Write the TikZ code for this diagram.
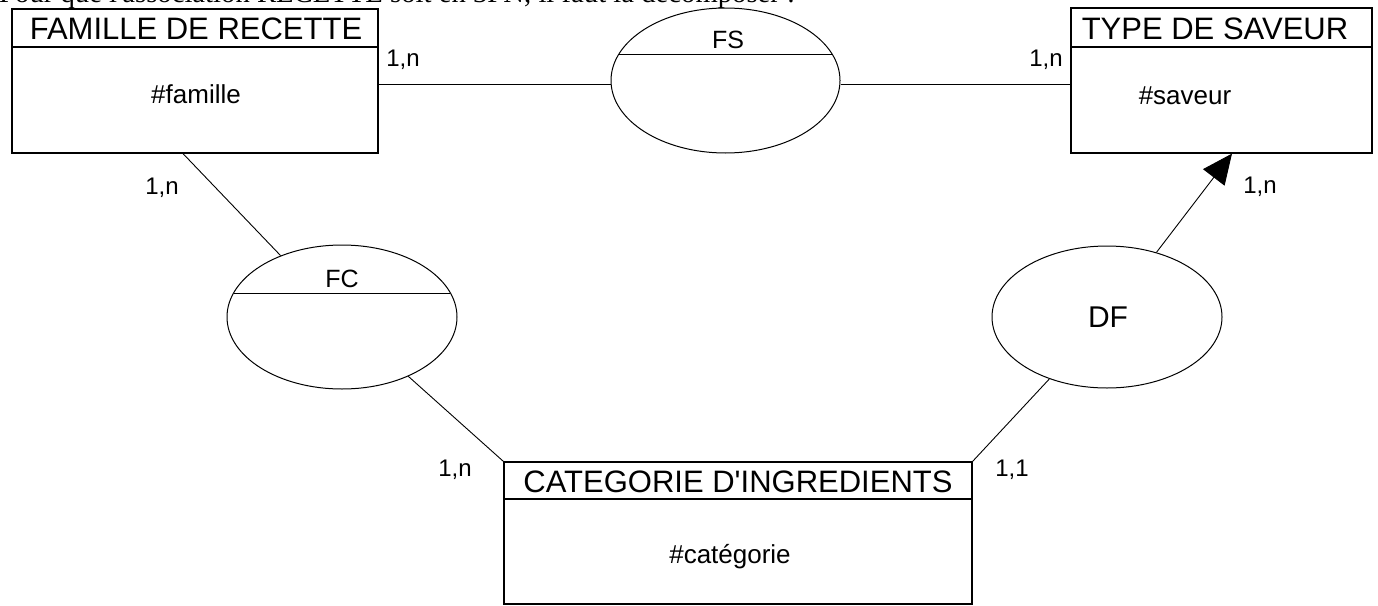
\documentclass[tikz,border=0pt]{standalone}
\usepackage{fontspec}
\setmainfont{Liberation Sans}[Ligatures=TeXOff]
\newfontfamily\seriffont{Liberation Serif}[Ligatures=TeXOff]
\usetikzlibrary{shapes.geometric,arrows.meta,calc}
\tikzset{
  entity/.style={draw, line width=1.2pt, rectangle, inner sep=0pt},
  assoc/.style={draw, line width=1pt, ellipse, inner sep=0pt, minimum width=230pt, minimum height=144pt},
  link/.style={line width=0.9pt},
  hdr/.style={font=\fontsize{31}{31}\selectfont, inner sep=0pt},
  attr/.style={font=\fontsize{26}{26}\selectfont, inner sep=0pt},
  card/.style={font=\fontsize{24}{24}\selectfont, inner sep=0pt},
  aname/.style={font=\fontsize{25}{25}\selectfont, inner sep=0pt}
}
\begin{document}
\begin{tikzpicture}[x=1pt,y=-1pt]
\useasboundingbox (0,0) rectangle (1378,605);
\clip (0,0) rectangle (1378,605);
\fill[white] (0,0) rectangle (1378,605);
% cut-off heading line
\node[anchor=base west, inner sep=0pt, font=\seriffont\fontsize{28.7}{28.7}\selectfont] (intro) at (-1,2) {Pour que l'association RECETTE soit en 3FN, il faut la décomposer :};
% entities
\node[entity, minimum width=366pt, minimum height=144pt] (fam) at (195,81) {};
\draw[line width=1.2pt] (fam.west |- 0,47) -- (fam.east |- 0,47);
\node[hdr] (famh) at (196,29) {FAMILLE DE RECETTE};
\node[attr] (fama) at (196,94) {\#famille};

\node[entity, minimum width=301pt, minimum height=145pt] (typ) at (1221.5,80.5) {};
\draw[line width=1.2pt] (typ.west |- 0,47) -- (typ.east |- 0,47);
\node[hdr] (typh) at (1215,29) {TYPE DE SAVEUR};
\node[attr] (typa) at (1185,96) {\#saveur};

\node[entity, minimum width=468pt, minimum height=142pt] (cat) at (738,533) {};
\draw[line width=1.2pt] (cat.west |- 0,499) -- (cat.east |- 0,499);
\node[hdr] (cath) at (738,482) {CATEGORIE D'INGREDIENTS};
\node[attr] (cata) at (730,557) {\#catégorie};

% associations
\node[assoc, minimum height=145pt, minimum width=229pt] (fs) at (725.5,80.5) {};
\draw[line width=1pt] ($(fs.center)+(-106.6,-26.5)$) -- ($(fs.center)+(106.6,-26.5)$);
\node[aname] (fsl) at (728,40) {FS};

\node[assoc] (fc) at (342,317) {};
\draw[line width=1pt] ($(fc.center)+(-108.4,-24)$) -- ($(fc.center)+(108.4,-24)$);
\node[aname] (fcl) at (342,279) {FC};

\node[assoc, minimum height=142pt] (df) at (1107,317) {};
\node[font=\fontsize{30}{30}\selectfont, inner sep=0pt] (dfl) at (1108,317) {DF};

% connectors
\draw[link] (fam.east |- 0,84) -- (fs.west |- 0,84);
\draw[link] (fs.east |- 0,84) -- (typ.west |- 0,84);
\draw[link] (fam.south -| 183,0) -- (fc.135);
\draw[link] (fc) -- (cat.north west);
\draw[link] (df) -- (cat.north east);
\coordinate (tip) at (typ.south -| 1232,0);
\draw[link, -{Triangle[length=30pt, width=27pt]}] (df) -- (tip);

% cardinalities
\node[card] (c1) at (403,60) {1,n};
\node[card] (c2) at (1046,60) {1,n};
\node[card] (c3) at (162,188) {1,n};
\node[card] (c4) at (455,470) {1,n};
\node[card] (c5) at (1012,470) {1,1};
\node[card] (c6) at (1260,187) {1,n};
\end{tikzpicture}
\end{document}
